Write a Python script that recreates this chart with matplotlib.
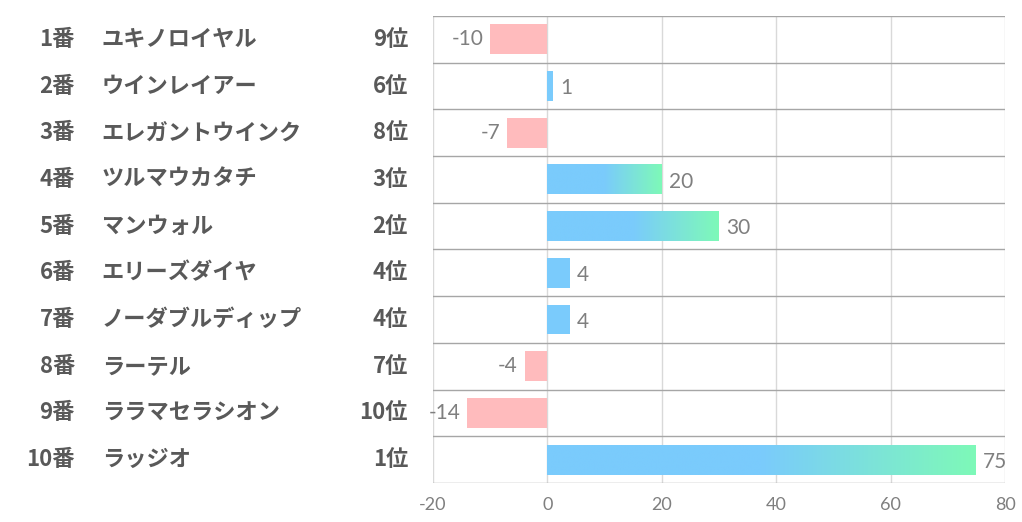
import matplotlib
matplotlib.use("Agg")
import matplotlib.pyplot as plt
import numpy as np
from matplotlib.colors import to_rgb
from matplotlib.transforms import blended_transform_factory

# データ
umaban = ["1番", "2番", "3番", "4番", "5番", "6番", "7番", "8番", "9番", "10番"]
bamei = ["ユキノロイヤル", "ウインレイアー", "エレガントウインク", "ツルマウカタチ", "マンウォル",
         "エリーズダイヤ", "ノーダブルディップ", "ラーテル", "ララマセラシオン", "ラッジオ"]
juni = ["9位", "6位", "8位", "3位", "2位", "4位", "4位", "7位", "10位", "1位"]
values = [-10, 1, -7, 20, 30, 4, 4, -4, -14, 75]
xticks = [-20, 0, 20, 40, 60, 80]

BLUE = "#7acbfc"
GREEN = "#7ef9b8"
PINK = "#ffbbbd"
TXT = "#595959"
NUMC = "#7f7f7f"
JP = ["Noto Sans CJK JP", "DejaVu Sans"]
NUM = ["Lato", "Noto Sans CJK JP"]

fig = plt.figure(figsize=(10.22, 5.22), dpi=100)
ax = fig.add_axes([433 / 1022, 1 - 483 / 522, 572 / 1022, 467 / 522])

n = len(values)
h = 0.64

# グラデーション用
c1 = np.array(to_rgb(BLUE))
c2 = np.array(to_rgb(GREEN))
t = np.linspace(0, 1, 256)
w = np.clip((t - 0.5) / 0.5, 0, 1)
grad = (c1[None, :] * (1 - w[:, None]) + c2[None, :] * w[:, None])[None, :, :]

for i, v in enumerate(values):
    if v < 0:
        ax.barh(i, v, height=h, color=PINK, zorder=2)
        ax.text(v - 1.2, i, str(v), ha="right", va="center", fontsize=15,
                color=NUMC, family=NUM, clip_on=False)
    else:
        if v >= 10:
            ax.imshow(grad, extent=[0, v, i + h / 2, i - h / 2], aspect="auto",
                      zorder=2, interpolation="bilinear")
        else:
            ax.barh(i, v, height=h, color=BLUE, zorder=2)
        ax.text(v + 1.2, i + 0.05, str(v), ha="left", va="center", fontsize=15,
                color=NUMC, family=NUM)

ax.set_xlim(-20, 80)
ax.set_ylim(n - 0.5, -0.5)

for x in xticks:
    ax.axvline(x, color="#d9d9d9", lw=1, zorder=1)
for k in range(n + 1):
    ax.axhline(k - 0.5, color="#a6a6a6", lw=1, zorder=1)

for s in ax.spines.values():
    s.set_visible(False)
ax.set_yticks([])
ax.set_xticks(xticks)
ax.set_xticklabels([str(x) for x in xticks], fontsize=13, color=NUMC, family=NUM)
ax.tick_params(axis="x", length=0, pad=10)

tr = blended_transform_factory(ax.transAxes, ax.transData)
for i in range(n):
    ax.text(-0.626, i, umaban[i], transform=tr, ha="right", va="center",
            fontsize=16, fontweight="bold", color=TXT, family=JP)
    ax.text(-0.579, i, bamei[i], transform=tr, ha="left", va="center",
            fontsize=16, fontweight="bold", color=TXT, family=JP)
    ax.text(-0.0437, i, juni[i], transform=tr, ha="right", va="center",
            fontsize=16, fontweight="bold", color=TXT, family=JP)

fig.savefig("out.png", dpi=100, facecolor="white")
